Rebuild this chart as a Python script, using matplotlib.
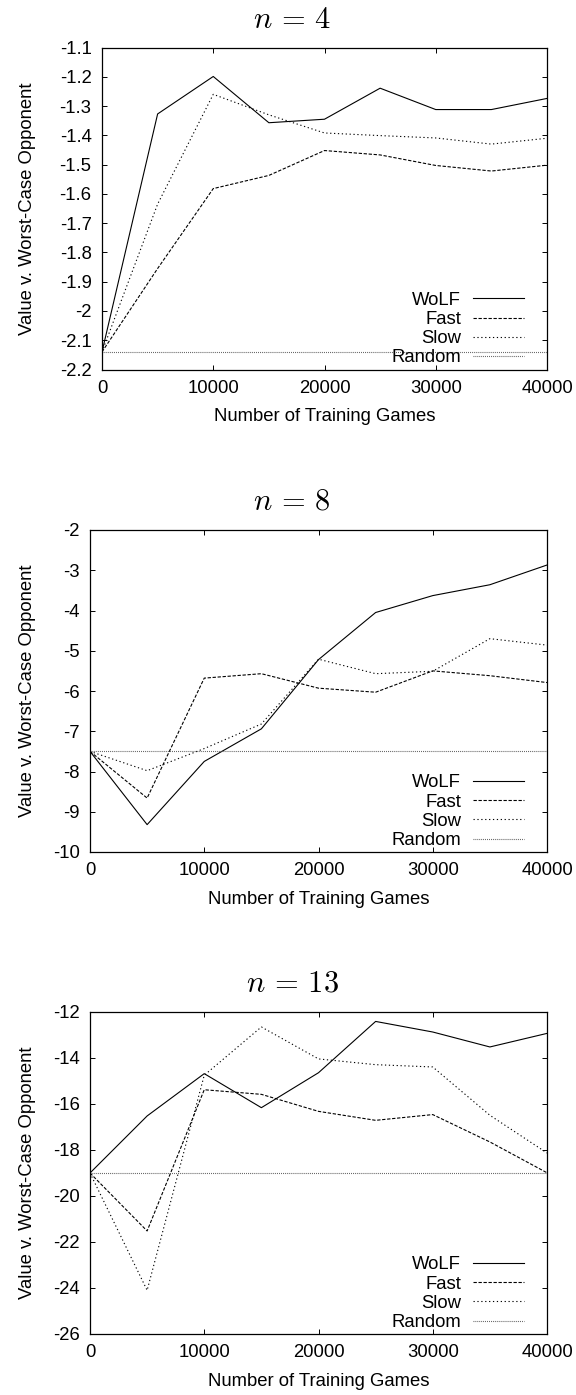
import matplotlib
matplotlib.use("Agg")
import matplotlib.pyplot as plt
from matplotlib.ticker import FormatStrFormatter, MultipleLocator
import numpy as np

# Training progress: value against the worst-case opponent
games = [0, 5000, 10000, 15000, 20000, 25000, 30000, 35000, 40000]
x_ticks = [0, 10000, 20000, 30000, 40000]

# n = 4
wolf_4 = [-2.14, -1.327, -1.199, -1.357, -1.345, -1.239, -1.312, -1.312, -1.274]
fast_4 = [-2.14, -1.855, -1.582, -1.537, -1.452, -1.467, -1.503, -1.522, -1.502]
slow_4 = [-2.14, -1.635, -1.260, -1.330, -1.392, -1.401, -1.409, -1.430, -1.410]
random_4 = -2.14

# n = 8
wolf_8 = [-7.5, -9.32, -7.75, -6.94, -5.22, -4.05, -3.63, -3.36, -2.87]
fast_8 = [-7.5, -8.66, -5.68, -5.57, -5.93, -6.03, -5.50, -5.62, -5.79]
slow_8 = [-7.5, -7.98, -7.43, -6.82, -5.21, -5.57, -5.51, -4.70, -4.86]
random_8 = -7.5

# n = 13
wolf_13 = [-19.0, -16.52, -14.68, -16.16, -14.64, -12.41, -12.87, -13.52, -12.93]
fast_13 = [-19.0, -21.52, -15.38, -15.58, -16.32, -16.71, -16.46, -17.65, -18.99]
slow_13 = [-19.0, -24.1, -14.75, -12.65, -14.04, -14.29, -14.39, -16.49, -18.13]
random_13 = -19.0

series_labels = ["WoLF", "Fast", "Slow", "Random"]

plt.rcParams.update({
    "font.family": ["Liberation Sans", "DejaVu Sans"],
    "font.size": 13.3,
    "mathtext.fontset": "cm",
    "axes.unicode_minus": False,
    "lines.scale_dashes": False,
})

W, H = 576, 1395
fig = plt.figure(figsize=(W / 100, H / 100), dpi=100)

styles = {
    "WoLF": dict(color="black", lw=0.8, ls="-"),
    "Fast": dict(color="black", lw=0.8, ls=(0, (2.4, 1.2))),
    "Slow": dict(color="black", lw=0.8, ls=(0, (0.9, 1.9))),
    "Random": dict(color="0.3", lw=0.8, ls=(0, (0.6, 0.8))),
}

panels = [
    dict(n=4, wolf=wolf_4, fast=fast_4, slow=slow_4, rnd=random_4,
         ylim=(-2.2, -1.1), ystep=0.1, box=(102, 47.5, 547, 369.5)),
    dict(n=8, wolf=wolf_8, fast=fast_8, slow=slow_8, rnd=random_8,
         ylim=(-10, -2), ystep=1, box=(90, 530, 547, 852)),
    dict(n=13, wolf=wolf_13, fast=fast_13, slow=slow_13, rnd=random_13,
         ylim=(-26, -12), ystep=2, box=(90, 1012, 547, 1334)),
]

for p in panels:
    l, t, r, b = p["box"]
    wpx, hpx = r - l, b - t
    ax = fig.add_axes([l / W, 1 - b / H, wpx / W, hpx / H])

    ax.plot(games, p["wolf"], label="WoLF", **styles["WoLF"])
    ax.plot(games, p["fast"], label="Fast", **styles["Fast"])
    ax.plot(games, p["slow"], label="Slow", **styles["Slow"])
    ax.axhline(p["rnd"], label="Random", **styles["Random"])

    ax.set_xlim(0, 40000)
    ax.set_ylim(*p["ylim"])
    ax.set_xticks(x_ticks)
    ax.yaxis.set_major_locator(MultipleLocator(p["ystep"]))
    ax.yaxis.set_major_formatter(FormatStrFormatter("%g"))
    ax.xaxis.set_major_formatter(FormatStrFormatter("%d"))
    ax.tick_params(direction="in", top=True, right=True, length=3.3,
                   width=0.7, pad=7.5, labelsize=13.3)
    for s in ax.spines.values():
        s.set_linewidth(0.9)

    ax.set_title(rf"$n\,=\,{p['n']}$", fontsize=22, x=(292 - l) / wpx,
                 y=1 + 28 / hpx, va="center", pad=0)
    ax.set_ylabel("Value v. Worst-Case Opponent")
    ax.yaxis.set_label_coords((36 - l) / wpx, 0.5)
    ax.set_xlabel("Number of Training Games")
    ax.xaxis.set_label_coords(0.5, -38.5 / hpx)

    ax.legend(loc="lower right", frameon=False, markerfirst=False,
              bbox_to_anchor=((524 - l) / wpx, 3 / hpx),
              borderaxespad=0, borderpad=0, handlelength=2.76,
              handletextpad=0.65, labelspacing=0.12, fontsize=13.3)

fig.savefig("out.png", dpi=100)
